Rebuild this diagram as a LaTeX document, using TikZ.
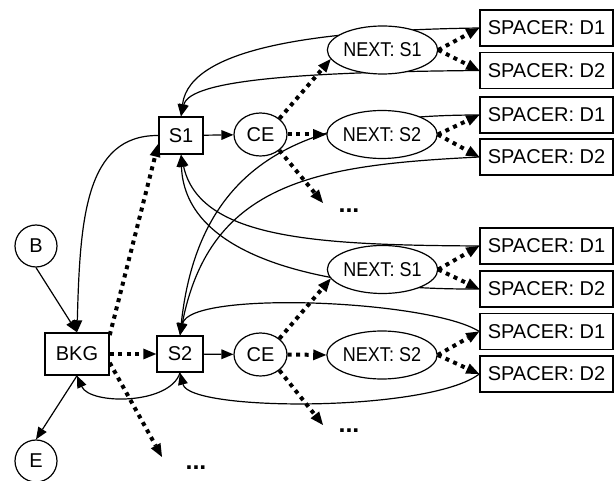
\documentclass[tikz,border=0pt]{standalone}
\usepackage{fontspec}
\setmainfont{Liberation Sans}
\newfontfamily\narrowfont[FakeStretch=0.9]{Liberation Sans}
\usetikzlibrary{arrows.meta,shapes.geometric,backgrounds}
\begin{document}
\begin{tikzpicture}[x=1pt,y=-1pt,
  font=\fontsize{20}{24}\selectfont,
  sbox/.style={draw,line width=1.5pt,fill=white,inner sep=0pt},
  spacer/.style={draw,line width=1.5pt,fill=white,inner sep=0pt,minimum width=133pt,minimum height=36pt},
  oval/.style={ellipse,draw,line width=1.2pt,fill=white,inner sep=0pt},
  nextoval/.style={oval,minimum width=110pt,minimum height=48pt,font=\fontsize{20}{24}\narrowfont},
  ceoval/.style={oval,minimum width=53pt,minimum height=43pt},
  circ/.style={circle,draw,line width=1.2pt,fill=white,inner sep=0pt,minimum size=42pt},
  edge/.style={line width=1.2pt,-{Triangle[length=12pt,width=10pt,line width=0pt]}},
  dotarrow/.style={line width=4pt,dash pattern=on 4pt off 4.5pt,-{Triangle[length=13pt,width=11pt,line width=0pt]}},
  dots/.style={anchor=base,inner sep=0pt,font=\fontsize{25}{28}\selectfont\bfseries}
]
\useasboundingbox (0,0) rectangle (614,481);

% nodes
\node[circ] (b) at (36,246) {B};
\node[circ] (e) at (36,461) {E};
\node[sbox,minimum width=64pt,minimum height=42pt] (bkg) at (77,354) {BKG};
\node[sbox,minimum width=44pt,minimum height=37pt] (s1) at (181,135.5) {S1};
\node[sbox,minimum width=46pt,minimum height=36pt] (s2) at (180,354) {S2};
\node[ceoval] (ce1) at (260.5,134.5) {CE};
\node[ceoval] (ce2) at (260.5,354.5) {CE};
\node[nextoval] (n11) at (382.5,50) {NEXT: S1};
\node[nextoval] (n12) at (382,134.5) {NEXT: S2};
\node[nextoval] (n21) at (382.5,269.5) {NEXT: S1};
\node[nextoval] (n22) at (382,355) {NEXT: S2};
\node[spacer] (d1a) at (546.5,28) {SPACER: D1};
\node[spacer] (d2a) at (546.5,70.5) {SPACER: D2};
\node[spacer] (d1b) at (546.5,115) {SPACER: D1};
\node[spacer] (d2b) at (546.5,157) {SPACER: D2};
\node[spacer] (d1c) at (546.5,246) {SPACER: D1};
\node[spacer] (d2c) at (546.5,289) {SPACER: D2};
\node[spacer] (d1d) at (546.5,331.5) {SPACER: D1};
\node[spacer] (d2d) at (546.5,374) {SPACER: D2};
\node[dots] (m1) at (349,212.5) {...};
\node[dots] (m2) at (349,432.5) {...};
\node[dots] (m3) at (196,469.5) {...};
\coordinate (t1) at (323,203);
\coordinate (t2) at (323,425);
\coordinate (t3) at (162,457);

\begin{scope}[on background layer]
% solid connectors
\draw[edge] (b.south) -- (bkg.north);
\draw[edge] (bkg.south) -- (e.north);
\draw[edge] (s1.west) .. controls (85,135) and (80,220) .. (bkg.north);
\draw[edge] (s1) -- (ce1);
\draw[edge] (s2) -- (ce2);
\draw[edge] (d1a.west) .. controls (330,30) and (190,45) .. (s1.north);
\draw[edge] (d2a.west) .. controls (300,72) and (190,80) .. (s1.north);
\draw[edge] (d1b.west) .. controls (320,115) and (200,150) .. (s2.north);
\draw[edge] (d2b.west) .. controls (320,165) and (210,180) .. (s2.north);
\draw[edge] (d1c.west) .. controls (320,245) and (200,240) .. (s1.south);
\draw[edge] (d2c.west) .. controls (330,290) and (185,260) .. (s1.south);
\draw[edge] (d1d.west) .. controls (430,300) and (190,290) .. (s2.north);
\draw[edge] (d2d.west) .. controls (430,412) and (190,412) .. (s2.south);
\draw[edge] (s2.south) .. controls (170,405) and (90,405) .. (bkg.south);
% dotted connectors
\draw[dotarrow] (bkg.30) -- (s1.200);
\draw[dotarrow] (bkg.east) -- (s2.west);
\draw[dotarrow] (bkg.-15) -- (t3);
\draw[dotarrow] (ce1.40) -- (n11.190);
\draw[dotarrow] (ce1.east) -- (n12.west);
\draw[dotarrow] (ce1.-40) -- (t1);
\draw[dotarrow] (ce2.40) -- (n21.190);
\draw[dotarrow] (ce2.east) -- (n22.west);
\draw[dotarrow] (ce2.-40) -- (t2);
\draw[dotarrow] (n11.east) -- (d1a.west);
\draw[dotarrow] (n11.east) -- (d2a.west);
\draw[dotarrow] (n12.east) -- (d1b.west);
\draw[dotarrow] (n12.east) -- (d2b.west);
\draw[dotarrow] (n21.east) -- (d1c.west);
\draw[dotarrow] (n21.east) -- (d2c.west);
\draw[dotarrow] (n22.east) -- (d1d.west);
\draw[dotarrow] (n22.east) -- (d2d.west);
\end{scope}
\end{tikzpicture}
\end{document}
